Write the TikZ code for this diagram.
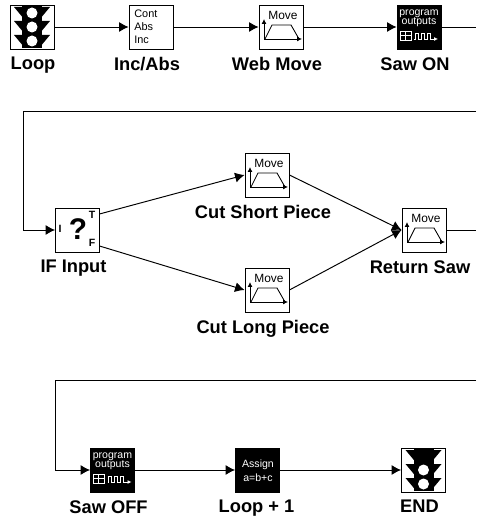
\documentclass[tikz,border=0pt]{standalone}
\usepackage{fontspec}
\setmainfont{Liberation Sans}
\usetikzlibrary{arrows.meta,positioning,calc}

\tikzset{
    pics/trafficlight/.style={code={
        \fill[black] (-10,-21) rectangle (10,21);
        \foreach \ypos in {-14,0,14}{
            \fill[black] (-18,\ypos-6) -- (-8,\ypos-6) -- (-8,\ypos+6) -- cycle;
            \fill[black] (18,\ypos-6) -- (8,\ypos-6) -- (8,\ypos+6) -- cycle;
        }
        \fill[#1] (0,-14) circle (5.5);
        \fill[white] (0,0) circle (5.5);
        \fill[white] (0,14) circle (5.5);
    }},
    pics/moveicon/.style={code={
        \draw[icon, -{Latex[length=1mm,width=1mm]}] (-17,12) -- (-17,-8);
        \draw[icon, -{Latex[length=1mm,width=1mm]}] (-17,12) -- (21,12);
        \draw[icon] (-16,12) -- (-9,-2) -- (10,-2) -- (18,12);
        \node[icontext, font=\fontsize{6.8}{8}\selectfont] (#1) at (2,-12) {Move};
    }},
    pics/outputicon/.style={code={
        \node[icontext, text=white, align=center, font=\fontsize{6}{5.2}\selectfont] (#1) at (0,-9) {program\\outputs};
        \draw[white, icon] (-19,4) rectangle (-8,13) (-19,8.5) -- (-8,8.5) (-14,4) -- (-14,13);
        \draw[white, icon, -{Latex[length=0.8mm,width=0.8mm]}] (-5,12) -- (-4,12) -- (-4,6) -- (-1,6) -- (-1,12) -- (2,12)
            -- (2,6) -- (5,6) -- (5,12) -- (8,12) -- (8,6) -- (11,6) -- (11,12) -- (19,12);
    }}
}

\begin{document}
\begin{tikzpicture}[
    x=0.02cm, y=-0.02cm,
    block/.style={draw, line width=0.5pt, minimum size=0.88cm, inner sep=0pt, fill=white},
    darkblock/.style={block, fill=black},
    icon/.style={line width=0.5pt},
    icontext/.style={inner sep=0pt},
    lbl/.style={font=\bfseries\fontsize{10.4}{12}\selectfont, inner sep=0pt, xshift=-0.08cm},
    wire/.style={-{Latex[length=1.9mm,width=2mm]}, line width=0.55pt}
]
\useasboundingbox (0,0) rectangle (476,519);

% first row
\node[block] (loop) at (32,27) {};
\node[block] (incabs) at (151,27) {};
\node[block] (webmove) at (281,27) {};
\node[darkblock] (sawon) at (419,27) {};
\pic at (loop) {trafficlight=white};
\node[icontext, align=left, font=\fontsize{6.2}{7.4}\selectfont, anchor=west] (incabstext) at (134,27) {Cont\\Abs\\Inc};
\pic at (webmove) {moveicon=webmovetext};
\pic at (sawon) {outputicon=sawontext};
\node[lbl, below=0.15cm of loop, xshift=0.1cm] (looplbl) {Loop};
\node[lbl, below=0.15cm of incabs] (incabslbl) {Inc/Abs};
\node[lbl, below=0.15cm of webmove] (webmovelbl) {Web Move};
\node[lbl, below=0.15cm of sawon] (sawonlbl) {Saw ON};
\coordinate (rowoneend) at (476,27);

\draw[wire] (loop) -- (incabs);
\draw[wire] (incabs) -- (webmove);
\draw[wire] (webmove) -- (sawon);
\draw[line width=0.55pt] (sawon) -- (rowoneend);

% second row
\node[block] (ifinput) at (77.5,230) {};
\node[block] (cutshort) at (267,175) {};
\node[block] (cutlong) at (267,290) {};
\node[block] (returnsaw) at (424,230) {};
\node[icontext, font=\bfseries\fontsize{6}{7}\selectfont] (ifi) at (60,229) {I};
\node[icontext, font=\bfseries\fontsize{17}{18}\selectfont] (ifq) at (78,229) {?};
\node[icontext, font=\bfseries\fontsize{6}{7}\selectfont] (ift) at (92,215) {T};
\node[icontext, font=\bfseries\fontsize{6}{7}\selectfont] (iff) at (92,243) {F};
\pic at (cutshort) {moveicon=cutshorttext};
\pic at (cutlong) {moveicon=cutlongtext};
\pic at (returnsaw) {moveicon=returnsawtext};
\node[lbl, below=0.15cm of ifinput] (ifinputlbl) {IF Input};
\node[lbl, below=0.15cm of cutshort] (cutshortlbl) {Cut Short Piece};
\node[lbl, below=0.15cm of cutlong] (cutlonglbl) {Cut Long Piece};
\node[lbl, below=0.15cm of returnsaw] (returnsawlbl) {Return Saw};
\coordinate (rowtwostart) at (476,111);
\coordinate (rowtwocorner) at (23,111);
\coordinate (iftrue) at (99.5,214);
\coordinate (iffalse) at (99.5,246);
\coordinate (rowtwoend) at (476,230);

\draw[wire] (rowtwostart) -- (rowtwocorner) |- (ifinput.west);
\draw[wire] (iftrue) -- (cutshort.west);
\draw[wire] (iffalse) -- (cutlong.west);
\draw[wire] (cutshort.east) -- (returnsaw.west);
\draw[wire] (cutlong.east) -- (returnsaw.west);
\draw[line width=0.55pt] (returnsaw) -- (rowtwoend);

% third row
\node[darkblock] (sawoff) at (112.5,470) {};
\node[darkblock] (loopinc) at (257.5,470) {};
\node[block] (theend) at (423.5,470) {};
\pic at (sawoff) {outputicon=sawofftext};
\node[icontext, text=white, align=center, font=\fontsize{6}{8}\selectfont] (assigntext) at (258,471) {Assign\\a=b+c};
\pic at (theend) {trafficlight=black};
\node[lbl, below=0.15cm of sawoff] (sawofflbl) {Saw OFF};
\node[lbl, below=0.15cm of loopinc, xshift=0.06cm] (loopinclbl) {Loop + 1};
\node[lbl, below=0.15cm of theend] (theendlbl) {END};
\coordinate (rowthreestart) at (476,380);
\coordinate (rowthreecorner) at (55,380);

\draw[wire] (rowthreestart) -- (rowthreecorner) |- (sawoff.west);
\draw[wire] (sawoff) -- (loopinc);
\draw[wire] (loopinc) -- (theend);

\end{tikzpicture}
\end{document}
